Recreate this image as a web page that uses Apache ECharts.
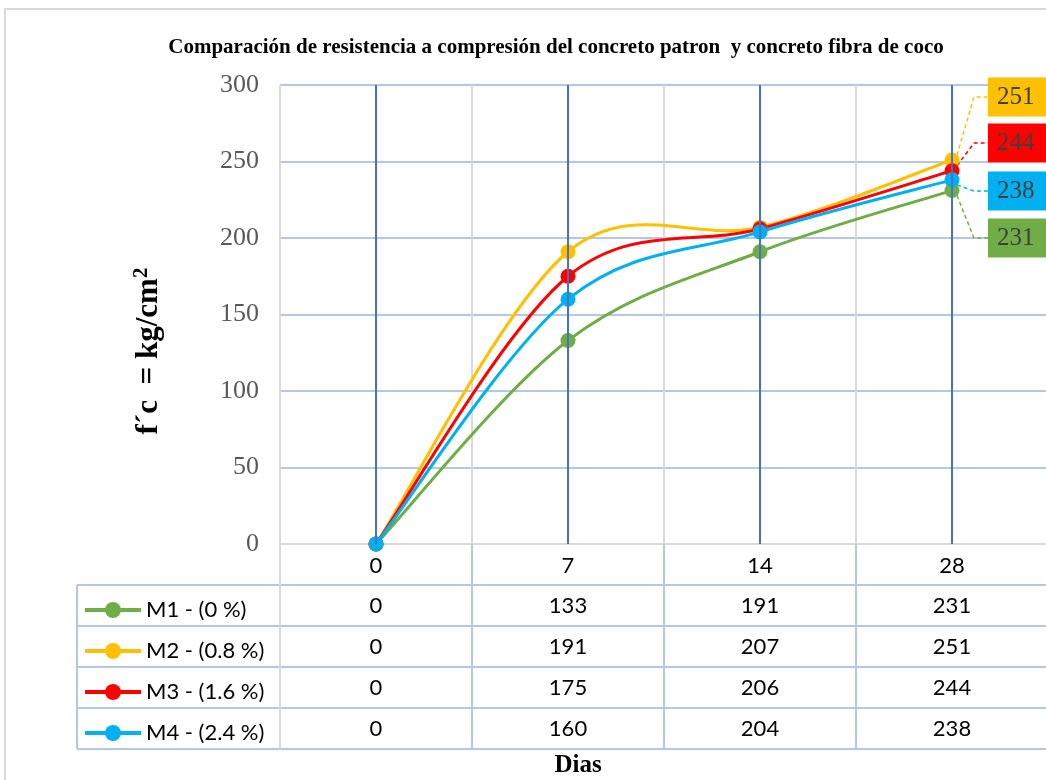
<!DOCTYPE html>
<html>
<head>
<meta charset="utf-8">
<script src="https://cdn.jsdelivr.net/npm/echarts@6/dist/echarts.min.js"></script>
<style>
  html, body { margin: 0; padding: 0; background: #fff; }
  #chart { width: 1046px; height: 780px; }
</style>
</head>
<body>
<div id="chart"></div>
<script>
// Curing age (days) and compressive strength f'c (kg/cm2) per mix
const categories = ['0', '7', '14', '28'];
const seriesNames = ['M1 - (0 %)', 'M2 - (0.8 %)', 'M3 - (1.6 %)', 'M4 - (2.4 %)'];
const m1Values = [0, 133, 191, 231];
const m2Values = [0, 191, 207, 251];
const m3Values = [0, 175, 206, 244];
const m4Values = [0, 160, 204, 238];
const yTicks = { min: 0, max: 300, interval: 50 };

const titleText = 'Comparación de resistencia a compresión del concreto patron  y concreto fibra de coco';
const xTitle = 'Dias';

const seriesValues = [m1Values, m2Values, m3Values, m4Values];
const colors = ['#70AD47', '#FFC000', '#FF0000', '#00B0F0'];

// layout
const GRID = { left: 280, top: 85, right: -2, bottom: 236 };
const ROW_H = 41;
const TABLE_TOP = 585;
const LABEL_BOX_X = 988;
const LEADER_KINK_X = 974;
const SLOT_Y = [97, 143, 191, 238];   // end-label boxes, top to bottom
const slotOf = [3, 0, 1, 2];          // M1 bottom, M2 top, M3, M4
const SANS = 'Lato, "Open Sans", sans-serif';
const SERIF = '"Liberation Serif", "DejaVu Serif", serif';

const chart = echarts.init(document.getElementById('chart'), null, { renderer: 'canvas' });

// Cardinal (Catmull-Rom) spline through the points, as cubic Bezier segments
function splinePath(pts) {
  let d = 'M' + pts[0][0] + ',' + pts[0][1];
  for (let k = 0; k < pts.length - 1; k++) {
    const p0 = pts[k - 1] || pts[k];
    const p1 = pts[k];
    const p2 = pts[k + 1];
    const p3 = pts[k + 2] || pts[k + 1];
    const c1 = [p1[0] + (p2[0] - p0[0]) / 6, p1[1] + (p2[1] - p0[1]) / 6];
    const c2 = [p2[0] - (p3[0] - p1[0]) / 6, p2[1] - (p3[1] - p1[1]) / 6];
    d += ' C' + c1[0] + ',' + c1[1] + ' ' + c2[0] + ',' + c2[1] + ' ' + p2[0] + ',' + p2[1];
  }
  return d;
}

// smoothed curve + dashed leader to the end label, one custom series per mix
const curveSeries = seriesValues.map((vals, i) => ({
  type: 'custom',
  coordinateSystem: 'cartesian2d',
  z: 2,
  silent: true,
  data: [[0, vals[0]]],
  renderItem: function (params, api) {
    const pts = vals.map((v, j) => api.coord([j, v]));
    const last = pts[pts.length - 1];
    const ly = SLOT_Y[slotOf[i]];
    return {
      type: 'group',
      children: [
        { type: 'path', shape: { pathData: splinePath(pts) },
          style: { fill: 'none', stroke: colors[i], lineWidth: 3 } },
        { type: 'polyline', z2: 1,
          shape: { points: [[last[0] + 5, last[1] + (ly < last[1] ? -5 : 5)], [LEADER_KINK_X, ly], [LABEL_BOX_X, ly]] },
          style: { fill: 'none', stroke: colors[i], lineWidth: 1.5, lineDash: [4, 3] } }
      ]
    };
  }
}));

// markers, legend entries and end value labels
const lineSeries = seriesValues.map((vals, i) => ({
  name: seriesNames[i],
  type: 'line',
  z: 3,
  symbol: 'circle',
  symbolSize: 15,
  color: colors[i],
  lineStyle: { width: 3, color: colors[i], opacity: 0 },
  itemStyle: { color: colors[i] },
  data: vals.map((v, j) => j === vals.length - 1
    ? { value: v, label: { show: true } }
    : v),
  label: {
    show: false,
    formatter: '{c}',
    fontFamily: SERIF,
    fontSize: 25,
    color: '#404040',
    backgroundColor: colors[i],
    padding: [6, 30, 5, 9],
    lineHeight: 28
  },
  labelLayout: function (p) {
    if (p.dataIndex !== vals.length - 1) return {};
    return { x: LABEL_BOX_X, y: SLOT_Y[slotOf[i]], align: 'left', verticalAlign: 'middle' };
  },
  emphasis: { disabled: true }
}));

// category centre lines
const centreLines = {
  type: 'line',
  data: [],
  z: 1,
  silent: true,
  markLine: {
    silent: true,
    symbol: ['none', 'none'],
    label: { show: false },
    lineStyle: { color: '#4472C4', width: 2, type: 'solid' },
    emphasis: { disabled: true },
    data: categories.map(c => ({ xAxis: c }))
  }
};

// data table rows as extra category axes under the plot
const tableAxes = seriesValues.map((vals, i) => ({
  type: 'category',
  gridIndex: 0,
  position: 'bottom',
  offset: 40 + ROW_H * i,
  data: vals.map(String),
  axisLine: { show: false },
  axisTick: { show: false },
  splitLine: { show: false },
  axisLabel: { interval: 0, margin: 11, fontFamily: SANS, fontSize: 22, color: '#000' }
}));

// table rules
const tableGraphics = [];
const tableBottom = TABLE_TOP + ROW_H * seriesNames.length;
for (let r = 0; r <= seriesNames.length; r++) {
  const y = TABLE_TOP + ROW_H * r;
  tableGraphics.push({ type: 'line', z: 5, shape: { x1: 77, y1: y, x2: 1100, y2: y },
    style: { stroke: '#B4C7E7', lineWidth: 2 } });
}
const band = (1046 - GRID.right - GRID.left) / categories.length;
tableGraphics.push({ type: 'line', z: 5, shape: { x1: 77, y1: TABLE_TOP, x2: 77, y2: tableBottom },
  style: { stroke: '#B4C7E7', lineWidth: 2 } });
for (let c = 0; c < categories.length; c++) {
  const x = GRID.left + band * c;
  tableGraphics.push({ type: 'line', z: 5, shape: { x1: x, y1: 780 - GRID.bottom, x2: x, y2: tableBottom },
    style: { stroke: c === 0 ? '#D9D9D9' : '#B4C7E7', lineWidth: 2 } });
}

chart.setOption({
  animation: false,
  backgroundColor: '#fff',
  grid: Object.assign({ containLabel: false, outerBoundsMode: 'none' }, GRID),
  legend: {
    data: seriesNames.map((n, i) => ({
      name: n,
      lineStyle: { color: colors[i], width: 4, opacity: 1 }
    })),
    orient: 'vertical',
    left: 78,
    top: 594,
    itemWidth: 56,
    itemHeight: 20,
    itemGap: 19,
    textStyle: { fontFamily: SANS, fontSize: 22, color: '#000', lineHeight: 22 },
    selectedMode: false
  },
  xAxis: [{
    type: 'category',
    data: categories,
    boundaryGap: true,
    axisLine: { show: true, lineStyle: { color: '#D9D9D9', width: 2 } },
    axisTick: { show: false },
    splitLine: { show: true, lineStyle: { color: '#D9D9D9', width: 2 } },
    axisLabel: { interval: 0, margin: 11, fontFamily: SANS, fontSize: 22, color: '#000' }
  }].concat(tableAxes),
  yAxis: {
    type: 'value',
    min: yTicks.min,
    max: yTicks.max,
    interval: yTicks.interval,
    axisLine: { show: false },
    axisTick: { show: false },
    splitLine: { show: true, lineStyle: { color: '#B4C7E7', width: 2 } },
    axisLabel: { margin: 21, fontFamily: SERIF, fontSize: 26, color: '#595959' }
  },
  graphic: [
    { type: 'rect', z: -10, shape: { x: 5, y: 9, width: 1200, height: 900 },
      style: { fill: null, stroke: '#D9D9D9', lineWidth: 2 } },
    { type: 'rect', z: 1, shape: { x: LABEL_BOX_X, y: 76, width: 80, height: 186 },
      style: { fill: '#fff' } },
    { type: 'text', z: 5, x: 556, y: 48,
      style: { text: titleText, fontFamily: SERIF, fontWeight: 'bold', fontSize: 21,
        fill: '#000', textAlign: 'center', textVerticalAlign: 'middle' } },
    { type: 'text', z: 5, x: 578, y: 766,
      style: { text: xTitle, fontFamily: SERIF, fontWeight: 'bold', fontSize: 25,
        fill: '#000', textAlign: 'center', textVerticalAlign: 'middle' } },
    { type: 'text', z: 5, x: 149, y: 351, rotation: Math.PI / 2,
      style: { text: '{a|f´c  = kg/cm}{b|2}', textAlign: 'center', textVerticalAlign: 'middle',
        rich: {
          a: { fontFamily: SERIF, fontWeight: 'bold', fontSize: 31, fill: '#000', color: '#000' },
          b: { fontFamily: SERIF, fontWeight: 'bold', fontSize: 21, fill: '#000', color: '#000', padding: [0, 0, 14, 0] }
        } } }
  ].concat(tableGraphics),
  series: [centreLines].concat(curveSeries, lineSeries)
});
</script>
</body>
</html>
